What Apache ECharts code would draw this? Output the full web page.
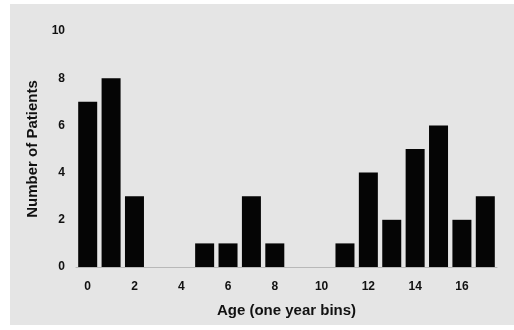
<!DOCTYPE html>
<html>
<head>
<meta charset="utf-8">
<script src="https://cdn.jsdelivr.net/npm/echarts@6/dist/echarts.min.js"></script>
<style>
  html, body { margin: 0; padding: 0; background: #fff; }
  #paper {
    position: absolute; left: 10px; top: 4px; right: 0; bottom: 5px;
    background: #e5e5e5;
  }
  #chart { position: absolute; left: 0; top: 0; width: 514px; height: 330px; }
</style>
</head>
<body>
<div id="paper"></div>
<div id="chart"></div>
<script>
// age bins (one year) and patient counts
const ages = ["0", "1", "2", "3", "4", "5", "6", "7", "8", "9", "10", "11", "12", "13", "14", "15", "16", "17"];
const patients = [7, 8, 3, 0, 0, 1, 1, 3, 1, 0, 0, 1, 4, 2, 5, 6, 2, 3];

const chart = echarts.init(document.getElementById("chart"));

const font = "Liberation Sans, Arial, sans-serif";

const option = {
  animation: false,
  grid: { left: 76, right: 17, top: 31, bottom: 63 },
  xAxis: {
    type: "category",
    data: ages,
    name: "Age (one year bins)",
    nameLocation: "middle",
    nameGap: 36,
    nameTextStyle: { fontFamily: font, fontWeight: "bold", fontSize: 15, color: "#111" },
    axisLine: { show: true, lineStyle: { color: "#b8b8b8", width: 1 } },
    axisTick: { show: false },
    axisLabel: {
      interval: 1,
      margin: 14,
      fontFamily: font,
      fontWeight: "bold",
      fontSize: 12,
      color: "#111"
    }
  },
  yAxis: {
    type: "value",
    min: 0,
    max: 10,
    interval: 2,
    name: "Number of Patients",
    nameLocation: "middle",
    nameGap: 33,
    nameTextStyle: { fontFamily: font, fontWeight: "bold", fontSize: 15, color: "#111" },
    axisLine: { show: false },
    axisTick: { show: false },
    splitLine: { show: false },
    axisLabel: {
      margin: 11,
      fontFamily: font,
      fontWeight: "bold",
      fontSize: 12,
      color: "#111"
    }
  },
  series: [
    {
      type: "bar",
      data: patients,
      barWidth: 19,
      itemStyle: { color: "#050505" }
    }
  ]
};

chart.setOption(option);
</script>
</body>
</html>
